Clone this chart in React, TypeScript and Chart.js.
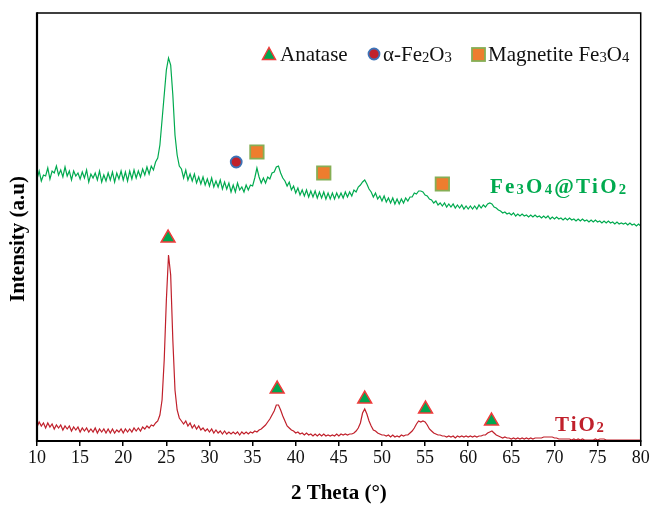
import React, { useEffect, useRef } from 'react';
import { Chart, registerables } from 'chart.js';

Chart.register(...registerables);

// ---- Data ----
const THETA_START = 10;
const THETA_STEP = 0.25;
const xTickLabels = ['10', '15', '20', '25', '30', '35', '40', '45', '50', '55', '60', '65', '70', '75', '80'];

// Fe3O4@TiO2 intensity (arbitrary units, offset pattern), one value per 0.25 deg from 10 to 80
const fe3o4TiO2Intensity = [
  262, 270, 260, 266, 265, 273, 262, 270, 268, 275, 266, 271, 264, 274, 265, 270,
  261, 270, 265, 268, 262, 269, 263, 271, 259, 267, 263, 268, 261, 270, 259, 266,
  260, 268, 261, 269, 259, 268, 262, 270, 261, 269, 260, 270, 262, 271, 263, 270,
  264, 272, 266, 274, 267, 275, 271, 279, 283, 296, 321, 346, 371, 383, 376, 346,
  306, 286, 275, 272, 263, 271, 261, 267, 260, 267, 258, 264, 257, 264, 256, 262,
  255, 263, 254, 260, 254, 261, 252, 259, 252, 258, 249, 256, 249, 258, 251, 254,
  249, 256, 251, 256, 255, 263, 273, 264, 258, 263, 258, 264, 262, 268, 269, 274,
  275, 268, 263, 260, 255, 259, 251, 255, 248, 253, 246, 251, 245, 251, 244, 250,
  244, 250, 243, 249, 243, 249, 242, 248, 242, 248, 242, 248, 243, 248, 243, 249,
  244, 249, 245, 251, 249, 254, 256, 259, 261, 257, 252, 249, 244, 248, 242, 245,
  240, 245, 239, 243, 238, 243, 237, 242, 237, 242, 238, 243, 240, 244, 244, 248,
  247, 250, 250, 249, 246, 245, 242, 241, 238, 240, 236, 238, 235, 238, 234, 237,
  234, 237, 233, 236, 233, 236, 232, 235, 232, 235, 232, 235, 232, 236, 233, 236,
  234, 237, 238, 237, 234, 233, 231, 230, 228, 229, 227, 228, 226, 228, 225, 227,
  225, 227, 225, 226, 224, 226, 224, 226, 224, 225, 223, 225, 223, 225, 222, 224,
  222, 224, 222, 223, 221, 223, 221, 223, 221, 222, 220, 222, 220, 222, 220, 221,
  219, 221, 219, 221, 219, 220, 218, 220, 218, 220, 218, 219, 217, 219, 217, 218,
  217, 218, 216, 218, 216, 217, 215, 217, 215,
];

// TiO2 intensity, one value per 0.25 deg from 10 to 80
const tio2Intensity = [
  14, 19, 15, 18, 13, 18, 14, 17, 12, 16, 13, 16, 11, 15, 12, 15,
  10, 14, 11, 14, 9, 13, 10, 13, 9, 12, 9, 13, 8, 12, 9, 12,
  8, 12, 8, 12, 8, 11, 9, 12, 8, 12, 9, 12, 9, 13, 10, 13,
  10, 14, 12, 15, 13, 16, 15, 18, 20, 26, 41, 81, 141, 186, 166, 101,
  51, 31, 23, 20, 17, 20, 15, 18, 13, 16, 12, 15, 11, 13, 10, 12,
  9, 12, 8, 11, 8, 10, 7, 10, 7, 9, 7, 9, 7, 9, 6, 9,
  7, 9, 7, 9, 8, 10, 9, 11, 12, 14, 16, 19, 22, 26, 30, 36,
  36, 31, 25, 20, 15, 13, 11, 10, 8, 9, 7, 8, 6, 8, 6, 7,
  5, 7, 5, 7, 5, 7, 5, 6, 5, 6, 5, 7, 5, 7, 6, 7,
  6, 7, 7, 8, 10, 13, 18, 28, 32, 27, 20, 15, 11, 10, 8, 7,
  6, 6, 5, 6, 4, 6, 4, 5, 4, 6, 5, 6, 6, 8, 10, 13,
  17, 20, 19, 20, 19, 16, 12, 10, 8, 7, 6, 6, 5, 5, 4, 5,
  4, 5, 3, 5, 4, 5, 4, 5, 4, 5, 4, 5, 4, 5, 5, 6,
  6, 8, 9, 10, 8, 6, 5, 4, 3, 4, 3, 3, 2, 3, 2, 3,
  2, 3, 2, 3, 2, 3, 2, 3, 3, 3, 3, 4, 4, 4, 4, 4,
  3, 3, 2, 2, 2, 2, 2, 2, 1, 2, 1, 2, 1, 2, 1, 1,
  1, 1, 1, 2, 1, 2, 2, 2, 1, 1, 1, 1, 1, 1, 1, 1,
  1, 1, 1, 1, 1, 1, 1, 1, 1,
];

// Phase markers
const anataseTheta = [25.2, 37.85, 48.0, 55.05, 62.7];
const anataseMarkY = [203, 52, 42, 32, 20];
const hematiteTheta = [33.1];
const hematiteMarkY = [279];
const magnetiteTheta = [35.5, 43.25, 57.0];
const magnetiteMarkY = [289, 268, 257];

// Texts
const legendAnatase = 'Anatase';
const legendHematite: [string, boolean][] = [['α-Fe', false], ['2', true], ['O', false], ['3', true]];
const legendMagnetite: [string, boolean][] = [['Magnetite Fe', false], ['3', true], ['O', false], ['4', true]];
const labelComposite: [string, boolean][] = [['Fe', false], ['3', true], ['O', false], ['4', true], ['@TiO', false], ['2', true]];
const labelTiO2: [string, boolean][] = [['TiO', false], ['2', true]];
const xTitle = '2 Theta (°)';
const yTitle = 'Intensity (a.u)';

const GREEN = '#00AA4F';
const RED = '#C0202B';
const TRI_FILL = '#00A650';
const TRI_EDGE = '#F03A3A';
const CIRC_FILL = '#C0222C';
const CIRC_EDGE = '#3C74B8';
const SQ_FILL = '#EE7D2E';
const SQ_EDGE = '#86AE55';
const SERIF = '"Liberation Serif", "Times New Roman", serif';

function toPoints(values: number[]) {
  return values.map((v, i) => ({ x: THETA_START + i * THETA_STEP, y: v }));
}
function pairPoints(xs: number[], ys: number[]) {
  return xs.map((x, i) => ({ x, y: ys[i] }));
}

function drawRich(
  ctx: CanvasRenderingContext2D,
  segs: [string, boolean][],
  x: number,
  y: number,
  size: number,
  weight: string,
  color: string,
  spacing: number,
  align: 'left' | 'center'
) {
  const parts: { ch: string; fs: number; w: number; small: boolean }[] = [];
  let total = 0;
  for (const [t, small] of segs) {
    for (const ch of Array.from(t)) {
      const fs = small ? size * 0.7 : size;
      ctx.font = `${weight} ${fs}px ${SERIF}`;
      const w = ctx.measureText(ch).width;
      parts.push({ ch, fs, w, small });
      total += w + spacing;
    }
  }
  total -= spacing;
  let cx = align === 'left' ? x : x - total / 2;
  ctx.fillStyle = color;
  ctx.textBaseline = 'alphabetic';
  ctx.textAlign = 'left';
  for (const p of parts) {
    ctx.font = `${weight} ${p.fs}px ${SERIF}`;
    ctx.fillText(p.ch, cx, y + (p.small ? size * 0.06 : 0));
    cx += p.w + spacing;
  }
}

const decorPlugin = {
  id: 'decor',
  afterDraw(chart: any) {
    const ctx: CanvasRenderingContext2D = chart.ctx;
    const { left, right, top, bottom } = chart.chartArea;
    ctx.save();
    // frame
    ctx.strokeStyle = '#000';
    ctx.lineWidth = 1.5;
    ctx.beginPath();
    ctx.moveTo(left, top);
    ctx.lineTo(right, top);
    ctx.lineTo(right, bottom);
    ctx.stroke();
    ctx.lineWidth = 2.2;
    ctx.beginPath();
    ctx.moveTo(left, top - 0.75);
    ctx.lineTo(left, bottom);
    ctx.lineTo(right + 0.75, bottom);
    ctx.stroke();

    // legend
    const ly = 54;
    ctx.beginPath();
    ctx.moveTo(269, ly - 6.5);
    ctx.lineTo(275.5, ly + 5.5);
    ctx.lineTo(262.5, ly + 5.5);
    ctx.closePath();
    ctx.fillStyle = TRI_FILL;
    ctx.fill();
    ctx.strokeStyle = TRI_EDGE;
    ctx.lineWidth = 1.5;
    ctx.stroke();
    drawRich(ctx, [[legendAnatase, false]], 280, 61, 21, 'normal', '#111', 0, 'left');
    ctx.beginPath();
    ctx.arc(374, ly, 5.5, 0, Math.PI * 2);
    ctx.fillStyle = CIRC_FILL;
    ctx.fill();
    ctx.strokeStyle = CIRC_EDGE;
    ctx.lineWidth = 1.8;
    ctx.stroke();
    drawRich(ctx, legendHematite, 383, 61, 21, 'normal', '#111', 0, 'left');
    ctx.fillStyle = SQ_FILL;
    ctx.fillRect(472, 48, 13, 13);
    ctx.strokeStyle = SQ_EDGE;
    ctx.lineWidth = 1.8;
    ctx.strokeRect(472, 48, 13, 13);
    drawRich(ctx, legendMagnetite, 488, 61, 21, 'normal', '#111', 0, 'left');

    // curve labels
    drawRich(ctx, labelComposite, 490, 192.5, 21, 'bold', GREEN, 2.2, 'left');
    drawRich(ctx, labelTiO2, 555, 430.5, 21, 'bold', RED, 1.8, 'left');

    // axis titles
    ctx.fillStyle = '#000';
    ctx.font = `bold 21px ${SERIF}`;
    ctx.textAlign = 'center';
    ctx.textBaseline = 'middle';
    ctx.fillText(xTitle, (left + right) / 2, 494);
    ctx.translate(18.5, 239);
    ctx.rotate(-Math.PI / 2);
    ctx.fillText(yTitle, 0, 0);
    ctx.restore();
  },
};

export default function App() {
  const ref = useRef<HTMLCanvasElement | null>(null);
  useEffect(() => {
    if (!ref.current) return;
    const chart = new Chart(ref.current, {
      type: 'line',
      data: {
        datasets: [
          {
            label: 'Anatase',
            data: pairPoints(anataseTheta, anataseMarkY),
            showLine: false,
            pointStyle: 'triangle',
            pointRadius: 8,
            pointBackgroundColor: TRI_FILL,
            pointBorderColor: TRI_EDGE,
            pointBorderWidth: 1.5,
          },
          {
            label: 'α-Fe2O3',
            data: pairPoints(hematiteTheta, hematiteMarkY),
            showLine: false,
            pointStyle: 'circle',
            pointRadius: 5.5,
            pointBackgroundColor: CIRC_FILL,
            pointBorderColor: CIRC_EDGE,
            pointBorderWidth: 1.8,
          },
          {
            label: 'Magnetite Fe3O4',
            data: pairPoints(magnetiteTheta, magnetiteMarkY),
            showLine: false,
            pointStyle: 'rect',
            pointRadius: 9.5,
            pointBackgroundColor: SQ_FILL,
            pointBorderColor: SQ_EDGE,
            pointBorderWidth: 1.8,
          },
          {
            label: 'Fe3O4@TiO2',
            data: toPoints(fe3o4TiO2Intensity),
            borderColor: GREEN,
            borderWidth: 1.2,
            pointRadius: 0,
            tension: 0,
          },
          {
            label: 'TiO2',
            data: toPoints(tio2Intensity),
            borderColor: RED,
            borderWidth: 1.2,
            pointRadius: 0,
            tension: 0,
          },
        ],
      },
      options: {
        animation: false,
        responsive: false,
        events: [],
        layout: { padding: { left: 37, top: 13, right: 11, bottom: 0 } },
        plugins: { legend: { display: false }, tooltip: { enabled: false } },
        scales: {
          x: {
            type: 'linear',
            min: 10,
            max: 80,
            afterFit: (scale: any) => {
              scale.height = 65;
            },
            border: { display: false },
            grid: {
              drawOnChartArea: false,
              drawTicks: true,
              tickLength: 5,
              tickColor: '#000',
              lineWidth: 1.5,
            },
            ticks: {
              stepSize: 5,
              padding: 1,
              color: '#111',
              font: { family: SERIF, size: 18 },
              maxRotation: 0,
              callback: (v: any) => {
                const i = Math.round((Number(v) - 10) / 5);
                return xTickLabels[i] ?? '';
              },
            },
          },
          y: {
            display: false,
            min: 0,
            max: 428,
          },
        },
      },
      plugins: [decorPlugin],
    });
    return () => chart.destroy();
  }, []);
  return (
    <div style={{ position: 'absolute', left: 0, top: 0, width: 652, height: 506, background: '#fff' }}>
      <canvas ref={ref} width={652} height={506} style={{ display: 'block' }} />
    </div>
  );
}
